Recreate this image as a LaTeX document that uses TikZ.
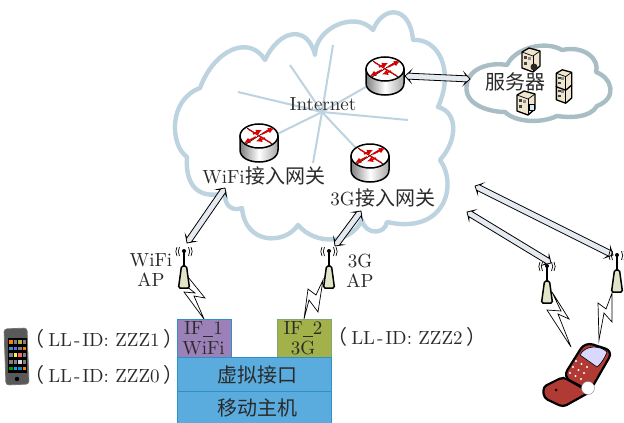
\documentclass[tikz,border=0pt]{standalone}
\usepackage{fontspec}
\usetikzlibrary{shapes.arrows,calc,arrows.meta}
\newfontfamily\cjk{Noto Sans CJK SC}
\newfontfamily\lmten{lmroman10-regular.otf}
\definecolor{cloudblue}{HTML}{BDD3E0}
\definecolor{cloudgrey}{HTML}{A9BDC4}
\definecolor{boxblue}{HTML}{59ACDD}
\definecolor{boxedge}{HTML}{2F90C8}
\definecolor{ifpurple}{HTML}{9C80B8}
\definecolor{ifgreen}{HTML}{A3B14B}
\definecolor{inkgrey}{HTML}{2A2A2A}
\definecolor{towerfill}{HTML}{E3E5C8}
\definecolor{arrowfill}{HTML}{E4EAF0}
\definecolor{phonered}{HTML}{B23A34}
\definecolor{srvfill}{HTML}{F0E6CF}
\tikzset{
  label text/.style={text=inkgrey,font=\lmten\fontsize{19}{20}\selectfont,inner sep=0,align=center},
  cjk text/.style={text=inkgrey,font=\cjk\fontsize{20}{20}\selectfont,inner sep=0},
  spoke/.style={cloudblue,line width=2pt},
  bolt/.style={fill=white,draw=black,line width=.7pt,line join=miter},
  stackbox/.style={draw=boxedge,line width=.9pt,inner sep=0,anchor=north west},
  redarrow/.style={red!85!black,line width=1.6pt,-{Latex[length=6pt,width=6pt]}},
  pics/router/.style={code={
    \path[left color=black!50,right color=black!35,middle color=white,draw=black,line width=1.5pt]
      (-19,-7) -- (-19,7) .. controls (-19,23) and (19,23) .. (19,7) -- (19,-7) -- cycle;
    \path[fill=white,draw=black,line width=1.5pt] (0,-7) ellipse[x radius=19,y radius=12];
    \draw[black,line width=.7pt] (-12,-15)--(13,1);
    \draw[black,line width=.7pt] (-13,1)--(12,-15);
    \draw[redarrow] (-3,-6)--(-15,0);
    \draw[redarrow] (3,-9)--(15,-15);
    \draw[redarrow] (6,-5)--(-3,-1.5);
    \draw[redarrow] (-6,-9)--(3,-13);
    \draw[red!85!black,line width=1.2pt] (-11,-14)--(12,0);
  }},
  pics/tower/.style={code={
    \draw[black,line width=1.7pt] (0,0)--(0,15);
    \fill[black] (0,0) circle(2pt);
    \foreach \r in {4.5,7}{
      \draw[black,line width=.7pt] (-\r,-4) .. controls ({-\r-1.6},-1) and ({-\r-1.6},2) .. (-\r,5);
      \draw[black,line width=.7pt] (\r,-4) .. controls ({\r+1.6},-1) and ({\r+1.6},2) .. (\r,5);
    }
    \draw[black,line width=1.5pt,fill=towerfill,rounded corners=1.5pt] (-2.5,15)--(2.5,15)--(5.5,37)--(-5.5,37)--cycle;
  }},
  pics/srv/.style={code={
    \draw[black,line width=1.3pt,fill=srvfill,line join=round] (-9,-8)--(-2,-12)--(9,-9)--(9,6)--(2,12)--(-9,8)--cycle;
    \draw[black,line width=.7pt] (-9,-8)--(2,-4)--(9,-9);
    \draw[black,line width=.7pt] (2,-4)--(2,12);
    \fill[black!75] (-7,-4) rectangle (-4,-1);
    \fill[black!75] (-7,2) rectangle (-4,5);
    \fill[black!45] (-3,-3) rectangle (0,0);
  }}
}
\newcommand{\fatarrow}[2]{%
  \path let \p1=($(#2)-(#1)$),\n1={atan2(\y1,\x1)},\n2={veclen(\x1,\y1)} in
    node[double arrow,draw=black,fill=arrowfill,line width=.8pt,inner xsep=0,inner ysep=2.6pt,
      double arrow head extend=2.6pt,double arrow head indent=1.5pt,
      minimum height=\n2,rotate=\n1] at ($(#1)!.5!(#2)$) {};}
\newcommand{\ubar}{\rule[-3pt]{10pt}{1.1pt}}
\newcommand{\cjkin}[1]{{\cjk\fontsize{20}{19}\selectfont #1}}
\newcommand{\llid}[1]{\cjkin{（}\hspace{4pt}LL\hspace{2pt}-\hspace{2pt}ID: ZZZ#1\hspace{4pt}\cjkin{）}}
\begin{document}
\begin{tikzpicture}[x=1pt,y=-1pt]
\useasboundingbox (0,0) rectangle (624,423);
% main cloud
\draw[cloudblue,line width=4.4pt,line join=round,fill=white]
 (200,88) .. controls (215,48) and (250,35) .. (265,60)
 .. controls (280,28) and (308,25) .. (315,55)
 .. controls (315,28) and (355,10) .. (373,30)
 .. controls (383,5) and (410,5) .. (413,40)
 .. controls (438,38) and (455,70) .. (438,107)
 .. controls (458,112) and (458,140) .. (440,160)
 .. controls (458,185) and (445,235) .. (387,222)
 .. controls (385,235) and (365,235) .. (362,220)
 .. controls (350,245) and (315,245) .. (298,225)
 .. controls (285,245) and (245,245) .. (242,208)
 .. controls (232,212) and (224,205) .. (225,193)
 .. controls (198,200) and (185,185) .. (187,157)
 .. controls (170,145) and (168,100) .. (200,88) -- cycle;
% spokes
\coordinate (hub) at (322,112);
\foreach \p/\n in {{333,45}/a,{290,65}/b,{238,92}/c,{408,120}/d,{313,163}/e}{
  \coordinate (s\n) at (\p);
  \draw[spoke] (hub)--(s\n);
}
\coordinate (rA) at (385,76);
\coordinate (rB) at (259,143);
\coordinate (rC) at (370,163);
\draw[spoke] (hub)--(rA);
\draw[spoke] (hub)--(rB);
\draw[spoke] (hub)--(rC);
\pic at (rA) {router};
\pic at (rB) {router};
\pic at (rC) {router};
\node[label text] (inet) at (323,104) {Internet};
\node[label text] (wifigw) at (264,176) {WiFi\hspace{1pt}\cjkin{接入网关}};
\node[label text] (gggw) at (383,198) {3G\hspace{1pt}\cjkin{接入网关}};
% server cloud
\draw[cloudgrey,line width=4.4pt,line join=round,fill=white]
 (467,83) .. controls (470,68) and (490,62) .. (507,65)
 .. controls (515,48) and (545,40) .. (562,50)
 .. controls (585,45) and (600,60) .. (596,72)
 .. controls (612,78) and (618,98) .. (597,106)
 .. controls (590,118) and (570,118) .. (557,116)
 .. controls (540,124) and (515,122) .. (505,112)
 .. controls (490,112) and (462,105) .. (467,83) -- cycle;
\node[cjk text] (srvtxt) at (515,82) {服务器};
\coordinate (sv1) at (531,60);
\coordinate (sv2) at (564,80);
\coordinate (sv3) at (564,93);
\coordinate (sv4) at (526,103);
\pic at (sv1) {srv};
\fill[black!85] (534,67) circle(3.5pt);
\pic[scale=.85] at (sv3) {srv};
\pic[scale=.85] at (sv2) {srv};
\pic at (sv4) {srv};
\draw[black,fill=cyan!20,line width=.5pt] (529,104) rectangle (534,110);
% towers
\coordinate (twA) at (184,251);
\coordinate (twB) at (329,251);
\coordinate (twC) at (547,266);
\coordinate (twD) at (617,255);
% double arrows
\coordinate (srvend) at (470,79);
\coordinate (rAend) at (405,76);
\fatarrow{rAend}{srvend}
\coordinate (wA) at (225,188);
\coordinate (wB) at (187,243);
\fatarrow{wA}{wB}
\coordinate (gA) at (361,211);
\coordinate (gB) at (335,246);
\fatarrow{gA}{gB}
\coordinate (lA) at (475,186);
\coordinate (lB) at (613,255);
\fatarrow{lA}{lB}
\coordinate (mA) at (467,212);
\coordinate (mB) at (551,263);
\fatarrow{mA}{mB}
% bolts
\draw[bolt] (188,277)--(205,298)--(194,296)--(204,319)--(184,292)--(195,293)--(181,282)--cycle;
\draw[bolt] (304,319)--(308,289)--(316,295)--(323,280)--(318,312)--(309,300)--cycle;
\draw[bolt] (552,292)--(569,319)--(558,314)--(571,347)--(547,310)--(561,311)--cycle;
\draw[bolt] (612,293)--(612,322)--(604,313)--(599,340)--(598,303)--(606,309)--cycle;
\pic at (twA) {tower};
\pic at (twB) {tower};
\pic at (twC) {tower};
\pic at (twD) {tower};
\node[label text,text width=60pt] (aplA) at (151,270) {WiFi\\AP};
\node[label text,text width=60pt] (aplB) at (360,271) {3G\\AP};
% stack
\node[stackbox,fill=ifpurple,minimum width=54pt,minimum height=38pt] (ifa) at (177,319) {};
\node[stackbox,fill=ifgreen,draw=ifgreen!70!boxedge,minimum width=54pt,minimum height=38pt] (ifb) at (277,319) {};
\node[stackbox,fill=boxblue,minimum width=154pt,minimum height=34pt] (vif) at (177,357) {};
\node[stackbox,fill=boxblue,minimum width=154pt,minimum height=33pt] (host) at (177,391) {};
\node[label text] (ifat) at (203.5,338) {IF\ubar 1\\WiFi};
\node[label text] (ifbt) at (303,338) {IF\ubar 2\\3G};
\node[cjk text] (vift) at (257,375) {虚拟接口};
\node[cjk text] (hostt) at (257,408) {移动主机};
% labels
\node[label text] (idA) at (104,339) {\llid{1}};
\node[label text] (idB) at (104,375) {\llid{0}};
\node[label text] (idC) at (407,337) {\llid{2}};
% iPhone
\draw[black!55,fill=black!65,line width=.8pt,rounded corners=3pt] (4,329)--(27,328)--(29,384)--(6,385)--cycle;
\fill[black] (8,338) rectangle (27,373);
\foreach \c [count=\i from 0] in {orange,gray,yellow!70!black,gray,cyan!70!black,blue!60,gray,orange,gray,yellow!80,red!60,gray,gray,gray,white!70!gray,gray,green!60!black,cyan,cyan!70!blue,orange}{
  \pgfmathtruncatemacro{\cx}{mod(\i,4)}
  \pgfmathtruncatemacro{\cy}{div(\i,4)}
  \fill[\c] ({9.3+\cx*4.5},{340+\cy*6.7}) rectangle ++(3.2,3.6);
}
\fill[black] (17,379) circle(2.2pt);
% red phone
\draw[black,line width=2.2pt,fill=phonered,line join=round,rounded corners=4pt] (563,377)--(543,387)--(544,398)--(563,407)--(590,392)--cycle;
\draw[black,line width=2.2pt,fill=phonered,rounded corners=8pt] (563,377)--(585,342)--(613,351)--(590,391)--cycle;
\draw[black,line width=.8pt] (563,377)--(588,392);
\draw[black,fill=white!85!blue,line width=.6pt] (580,355) .. controls (585,345) and (600,345) .. (607,352) .. controls (605,358) and (600,365) .. (597,367) -- cycle;
\foreach \a in {0,1,2}{\foreach \b in {0,1,2}{
  \fill[white] ({576+\a*5.5-\b*3},{361+\a*3+\b*6}) circle(1.2pt);
}}
\fill[black] (556,390) circle(1.5pt);
\fill[white,draw=black!50,line width=.4pt] (588,388) circle(6.5pt);
\end{tikzpicture}
\end{document}
